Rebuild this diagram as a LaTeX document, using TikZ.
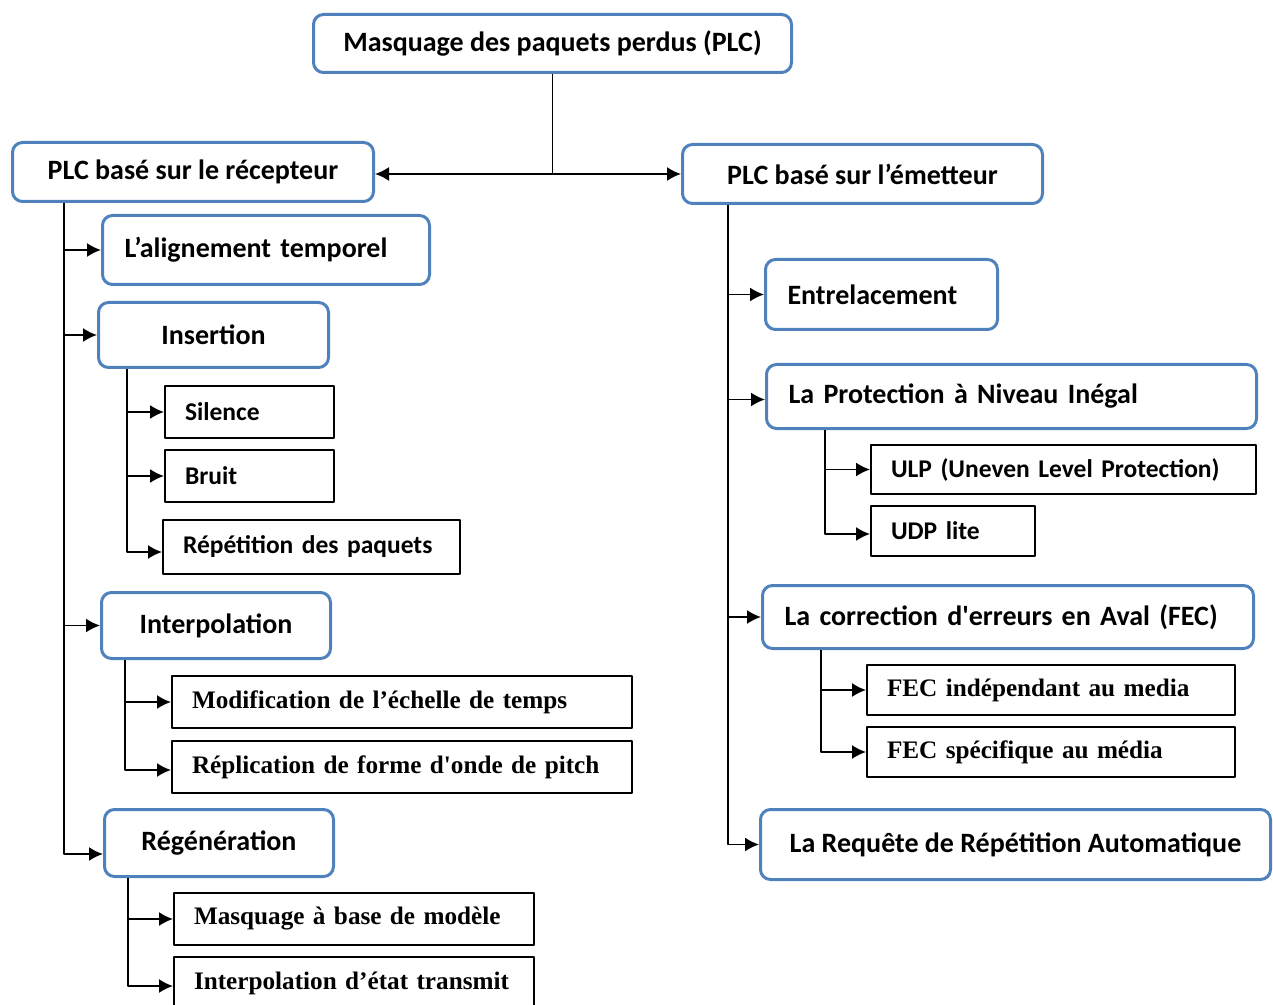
\documentclass[tikz,border=0pt]{standalone}
\usepackage{fontspec}
\newfontfamily\calibri{Carlito}
\newfontfamily\timesfont{Liberation Serif}
\usetikzlibrary{arrows.meta}

\definecolor{boxblue}{RGB}{79,129,189}
\tikzset{
  bluebox/.style={draw=boxblue, line width=1.5pt, rounded corners=5pt, inner xsep=11pt, inner ysep=0pt,
    anchor=north west, font=\calibri\bfseries\fontsize{14}{16}\selectfont},
  plainbox/.style={draw=black, line width=1pt, inner xsep=10pt, inner ysep=0pt, anchor=north west, align=left},
  sanstext/.style={font=\calibri\bfseries\fontsize{12.75}{15}\selectfont},
  seriftext/.style={font=\timesfont\bfseries\fontsize{12.6}{15}\selectfont},
}

\begin{document}
\begin{tikzpicture}[>={Latex[length=7pt,width=7pt]},x=0.5pt,y=-0.5pt,line join=bevel]
\useasboundingbox (0,0) rectangle (1273,1005);
%%
  % Node: root
  \node[bluebox, minimum width=239pt, minimum height=29pt] (root) at (312,13) {Masquage des paquets perdus (PLC)};
  % Node: recv
  \node[bluebox, minimum width=180.5pt, minimum height=29.5pt] (recv) at (11,141) {PLC basé sur le récepteur};
  % Node: emet
  \node[bluebox, minimum width=180pt, minimum height=29.5pt] (emet) at (681,143) {PLC basé sur l’émetteur};
  % Node: align
  \node[bluebox, align=left, text width=141.5pt, minimum height=34.5pt] (align) at (101,214) {L’alignement temporel};
  % Node: insertion
  \node[bluebox, minimum width=115pt, minimum height=32.5pt] (insertion) at (97,301) {Insertion};
  % Node: silence
  \node[plainbox, sanstext, text width=64.5pt, minimum height=26pt] (silence) at (164,385) {Silence};
  % Node: bruit
  \node[plainbox, sanstext, text width=64.5pt, minimum height=26pt] (bruit) at (164,449) {Bruit};
  % Node: repet
  \node[plainbox, sanstext, text width=128.5pt, minimum height=27pt] (repet) at (162,519) {Répétition des paquets};
  % Node: interp
  \node[bluebox, minimum width=114.5pt, minimum height=33pt] (interp) at (100,591) {Interpolation};
  % Node: modif
  \node[plainbox, seriftext, text width=210pt, minimum height=26pt] (modif) at (171,675) {Modification de l’échelle de temps};
  % Node: replic
  \node[plainbox, seriftext, text width=210pt, minimum height=26pt] (replic) at (171,740) {Réplication de forme d'onde de pitch};
  % Node: regen
  \node[bluebox, minimum width=114.5pt, minimum height=33.5pt] (regen) at (103,808) {Régénération};
  % Node: masq
  \node[plainbox, seriftext, text width=160pt, minimum height=26pt] (masq) at (173,892) {Masquage à base de modèle};
  % Node: etat
  \node[plainbox, seriftext, text width=160pt, minimum height=26pt] (etat) at (173,956) {Interpolation d’état transmit};
  % Node: entrel
  \node[bluebox, align=left, text width=94pt, minimum height=35pt] (entrel) at (764,258) {Entrelacement};
  % Node: prot
  \node[bluebox, align=left, text width=223pt, minimum height=32pt] (prot) at (765,363) {La Protection à Niveau Inégal};
  % Node: ulp
  \node[plainbox, sanstext, text width=172.5pt, minimum height=24.5pt] (ulp) at (870,444) {ULP (Uneven Level Protection)};
  % Node: udp
  \node[plainbox, sanstext, text width=62pt, minimum height=25pt] (udp) at (870,505) {UDP lite};
  % Node: fec
  \node[bluebox, align=left, text width=223.5pt, minimum height=31.5pt] (fec) at (761,584) {La correction d'erreurs en Aval (FEC)};
  % Node: fecind
  \node[plainbox, seriftext, text width=164pt, minimum height=25pt] (fecind) at (866,664) {FEC indépendant au media};
  % Node: fecspec
  \node[plainbox, seriftext, text width=164pt, minimum height=25pt] (fecspec) at (866,726) {FEC spécifique au média};
  % Node: arq
  \node[bluebox, minimum width=255pt, minimum height=35pt] (arq) at (759,808) {La Requête de Répétition Automatique};
%%
\begin{scope}[line width=0.9pt]
  % Edge: root -> recv, emet
  \coordinate (fork) at (root.south |- 0,174);
  \draw (root.south) -- (fork);
  \draw[->] (fork) -- (fork -| recv.east);
  \draw[->] (fork) -- (fork -| emet.west);
  % Edge: recv -> align, insertion, interp, regen
  \coordinate (recvspine) at ([xshift=26.5pt]recv.south west);
  \draw[->] (recvspine) |- (align.west);
  \draw[->] (recvspine) |- (insertion.west);
  \draw[->] (recvspine) |- (interp.west);
  \draw[->] (recvspine) |- ([yshift=-5.5pt]regen.west);
  % Edge: insertion -> silence, bruit, repet
  \coordinate (insspine) at ([xshift=15pt]insertion.south west);
  \draw[->] (insspine) |- (silence.west);
  \draw[->] (insspine) |- (bruit.west);
  \draw[->] (insspine) |- ([yshift=-2.5pt]repet.west);
  % Edge: interp -> modif, replic
  \coordinate (interpspine) at ([xshift=12.5pt]interp.south west);
  \draw[->] (interpspine) |- (modif.west);
  \draw[->] (interpspine) |- ([yshift=-1.5pt]replic.west);
  % Edge: regen -> masq, etat
  \coordinate (regenspine) at ([xshift=12.5pt]regen.south west);
  \draw[->] (regenspine) |- (masq.west);
  \draw[->] (regenspine) |- ([yshift=-1.5pt]etat.west);
  % Edge: emet -> entrel, prot, fec, arq
  \coordinate (emetspine) at ([xshift=23.5pt]emet.south west);
  \draw[->] (emetspine) |- (entrel.west);
  \draw[->] (emetspine) |- ([yshift=-1.5pt]prot.west);
  \draw[->] (emetspine) |- (fec.west);
  \draw[->] (emetspine) |- (arq.west);
  % Edge: prot -> ulp, udp
  \coordinate (protspine) at ([xshift=30pt]prot.south west);
  \draw[->] (protspine) |- (ulp.west);
  \draw[->] (protspine) |- ([yshift=-1.5pt]udp.west);
  % Edge: fec -> fecind, fecspec
  \coordinate (fecspine) at ([xshift=30pt]fec.south west);
  \draw[->] (fecspine) |- (fecind.west);
  \draw[->] (fecspine) |- (fecspec.west);
\end{scope}
%
\end{tikzpicture}
\end{document}
